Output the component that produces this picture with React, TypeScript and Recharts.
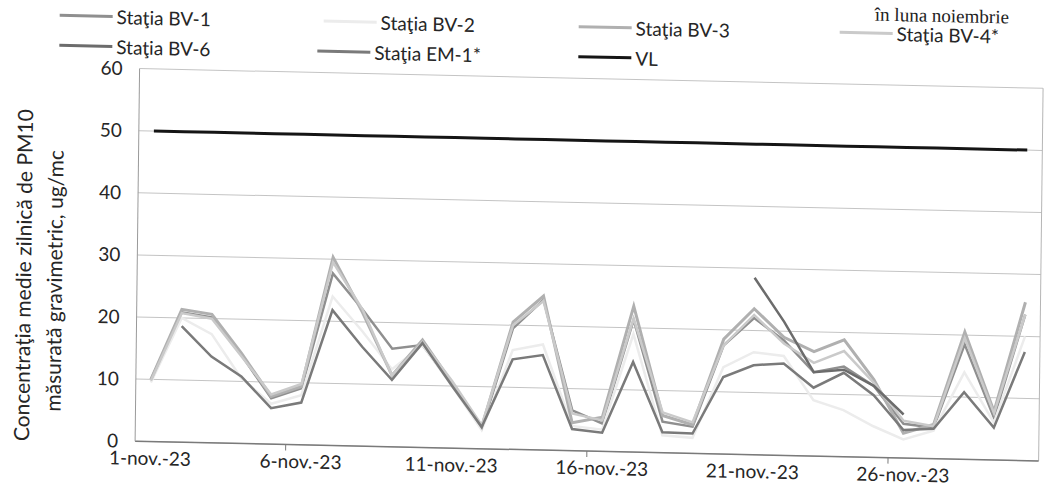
import React from "react";
import { LineChart, Line, XAxis, YAxis, CartesianGrid, ReferenceLine } from "recharts";

// zile din noiembrie 2023
const days = [1, 2, 3, 4, 5, 6, 7, 8, 9, 10, 11, 12, 13, 14, 15, 16, 17, 18, 19, 20, 21, 22, 23, 24, 25, 26, 27, 28, 29, 30];
const labelDays = [1, 6, 11, 16, 21, 26];
const dayLabels = ["1-nov.-23", "6-nov.-23", "11-nov.-23", "16-nov.-23", "21-nov.-23", "26-nov.-23"];
const tickMarks = [5.5, 15.5, 25.5];
const yTicks = [0, 10, 20, 30, 40, 50, 60];

const bv1 = [10, 20.9, 20.2, 14.2, 7.4, 9.1, 27.7, 22, 15.8, 16.5, 10.2, 3.3, 19.5, 24.2, 6.5, 4.5, 21.3, 5, 4.3, 17.5, 22, 18.5, 13.5, 14.5, 11.5, 5.5, 5, 18.5, 6.8, 23.5];
const bv2 = [9.5, 20, 17.5, 10.5, 6.5, 8, 24, 18.5, 12.5, 16.5, 10, 3, 16, 17, 4, 3.5, 19, 2.8, 2.5, 14, 16.5, 16, 9, 7.5, 5, 3, 4.5, 14, 6, 20];
const bv3 = [10, 21.4, 20.7, 14.5, 7.7, 9.4, 30.3, 21.5, 11.5, 17.3, 10.5, 3.5, 20.5, 24.8, 4.5, 5.5, 23.5, 6, 4.6, 18.5, 23.5, 19, 16.8, 18.8, 12.5, 4, 5.5, 20.5, 7.8, 25.5];
const bv4 = [9.8, 20.8, 20, 14, 8, 9.8, 29.5, 22, 11.5, 17, 10.8, 3.8, 20, 24, 6, 5, 21.5, 6.5, 5, 17.5, 22.5, 18, 15, 17, 12, 6, 5.2, 19.5, 7.5, 23.5];
const bv6 = [null, null, null, null, null, null, null, null, null, null, null, null, null, null, null, null, null, null, null, null, 28.5, 21.5, 13.5, 14, 11.5, 7, null, null, null, null];
const em1 = [null, 18.7, 13.9, 10.8, 5.8, 6.8, 21.8, 16, 10.8, 16.8, 10, 3.5, 14.5, 15.3, 3.5, 3, 14.5, 3.3, 3.2, 12.4, 14.4, 14.8, 11, 13.5, 10, 4.5, 4.8, 10.8, 5.2, 17.5];
const vl = [50, 50, 50, 50, 50, 50, 50, 50, 50, 50, 50, 50, 50, 50, 50, 50, 50, 50, 50, 50, 50, 50, 50, 50, 50, 50, 50, 50, 50, 50];

const series = [
  { key: "bv1", name: "Staţia BV-1", values: bv1, color: "#8f8f8f", width: 2.5 },
  { key: "bv2", name: "Staţia BV-2", values: bv2, color: "#ececec", width: 2.5 },
  { key: "bv3", name: "Staţia BV-3", values: bv3, color: "#b0b0b0", width: 3 },
  { key: "bv4", name: "Staţia BV-4*", values: bv4, color: "#cacaca", width: 2.5 },
  { key: "bv6", name: "Staţia BV-6", values: bv6, color: "#6c6c6c", width: 2.5 },
  { key: "em1", name: "Staţia EM-1*", values: em1, color: "#7a7a7a", width: 2.5 },
  { key: "vl", name: "VL", values: vl, color: "#151515", width: 3 },
];

const data = days.map((d, i) => {
  const row: Record<string, number | null> = { day: d };
  series.forEach((s) => {
    row[s.key] = s.values[i];
  });
  return row;
});

// pozitia elementelor din legenda (x, rand)
const legendPos = [
  { x: 57, row: 0 },
  { x: 321, row: 0 },
  { x: 576, row: 0 },
  { x: 837, row: 0 },
  { x: 57, row: 1 },
  { x: 315, row: 1 },
  { x: 576, row: 1 },
];
const rowY = [25, 55];

const FONT = "Lato, 'Liberation Sans', sans-serif";
const TEXT = "#262626";

const XTick = (props: any) => {
  const { x, y, payload } = props;
  const i = labelDays.indexOf(payload.value);
  if (i < 0) {
    return <line x1={x} x2={x} y1={y} y2={y + 6} stroke="#7a7a7a" strokeWidth={1} />;
  }
  return (
    <text x={x} y={y + 10} dy="0.71em" textAnchor="middle" fontFamily={FONT} fontSize={19} fill={TEXT}>
      {dayLabels[i]}
    </text>
  );
};

const YTitle = () => (
  <g fontFamily={FONT} fontSize={21} fill={TEXT}>
    <text x={23} y={286} textAnchor="middle" dominantBaseline="central" transform="rotate(-90, 23, 286)">
      Concentraţia medie zilnică de PM10
    </text>
    <text x={54} y={291} textAnchor="middle" dominantBaseline="central" transform="rotate(-90, 54, 291)">
      măsurată gravimetric, ug/mc
    </text>
  </g>
);

export default function App() {
  return (
    <div
      style={{
        position: "absolute",
        left: 0,
        top: 0,
        width: 1044,
        height: 499,
        transform: "matrix(1, 0.0218, -0.012, 1, 0, 0)",
        transformOrigin: "522px 250px",
      }}
    >
      <div
        style={{
          position: "absolute",
          left: 872,
          top: -3,
          fontFamily: "'Liberation Serif', serif",
          fontSize: 19,
          lineHeight: "20px",
          color: "#222",
          whiteSpace: "nowrap",
        }}
      >
        în luna noiembrie
      </div>
      <LineChart width={1044} height={499} data={data} margin={{ top: 77, right: 3, bottom: 0, left: 0 }}>
        <CartesianGrid vertical={false} stroke="#c4c4c4" />
        <XAxis
          dataKey="day"
          type="number"
          domain={[0.5, 30.5]}
          ticks={[...labelDays, ...tickMarks].sort((a, b) => a - b)}
          interval={0}
          tick={<XTick />}
          tickLine={false}
          tickSize={0}
          tickMargin={0}
          height={49.4}
          axisLine={{ stroke: "#7a7a7a", strokeWidth: 1.5 }}
        />
        <YAxis
          domain={[0, 60]}
          ticks={yTicks}
          interval={0}
          width={137.5}
          tickSize={0}
          tickMargin={17}
          tickLine={false}
          axisLine={{ stroke: "#9a9a9a" }}
          tick={{ fontFamily: FONT, fontSize: 19, fill: TEXT }}
          label={<YTitle />}
        />
        <ReferenceLine x={30.5} stroke="#b5b5b5" />
        {series.map((s) => (
          <Line
            key={s.key}
            dataKey={s.key}
            name={s.name}
            type="linear"
            stroke={s.color}
            strokeWidth={s.width}
            dot={false}
            activeDot={false}
            connectNulls={false}
            isAnimationActive={false}
          />
        ))}
      </LineChart>
      {series.map((s, i) => (
        <div
          key={s.key}
          style={{
            position: "absolute",
            left: legendPos[i].x,
            top: rowY[legendPos[i].row] - 13,
            height: 26,
            display: "flex",
            alignItems: "center",
            fontFamily: FONT,
            fontSize: 19,
            color: TEXT,
            whiteSpace: "nowrap",
          }}
        >
          <span style={{ display: "inline-block", width: 53, height: 3, background: s.color, marginRight: 4 }} />
          <span>{s.name}</span>
        </div>
      ))}
    </div>
  );
}
